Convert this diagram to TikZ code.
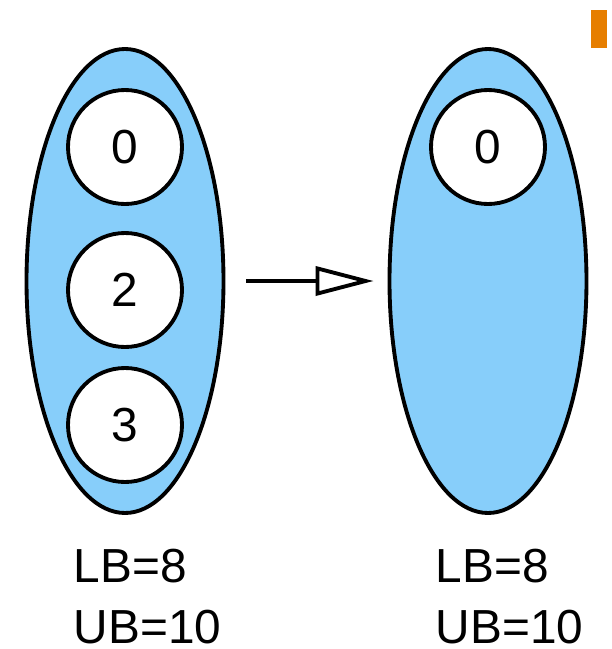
\documentclass[tikz,border=0pt]{standalone}
\usepackage{fontspec}
\setmainfont{Liberation Sans}
\usepackage{tikz}
\usetikzlibrary{arrows.meta,positioning,shapes.geometric}
\definecolor{setbg}{RGB}{135,206,250}
\definecolor{markor}{RGB}{230,126,0}

\begin{document}
\begin{tikzpicture}[font=\fontsize{13.6}{17.6}\selectfont,
    set/.style={draw,ellipse,line width=1.1pt,fill=setbg,minimum width=1.97cm,minimum height=4.64cm,inner sep=0pt},
    elem/.style={draw,circle,line width=1.1pt,fill=white,minimum size=1.14cm,inner sep=0pt},
    bounds/.style={align=left,anchor=north west,inner sep=0pt}]
  \useasboundingbox (0,0) rectangle (6.11,-6.49);
  \fill[markor] (5.91,-0.10) rectangle (6.07,-0.48);
  % before
  \node[set] (before) at (1.25,-2.81) {};
  \node[elem] (b0) at (1.25,-1.47) {0};
  \node[elem] (b2) at (1.25,-2.90) {2};
  \node[elem] (b3) at (1.25,-4.25) {3};
  % after
  \node[set] (after) at (4.88,-2.81) {};
  \node[elem] (a0) at (4.88,-1.47) {0};
  \draw[line width=1.1pt,-{Triangle[open,length=0.58cm,width=0.29cm]},
        shorten <=0.21cm,shorten >=0.14cm] (before.east) -- (after.west);
  % bounds
  \node[bounds] (lb) at (0.73,-5.48) {LB=8\\UB=10};
  \node[bounds] (rb) at (4.35,-5.48) {LB=8\\UB=10};
\end{tikzpicture}
\end{document}
